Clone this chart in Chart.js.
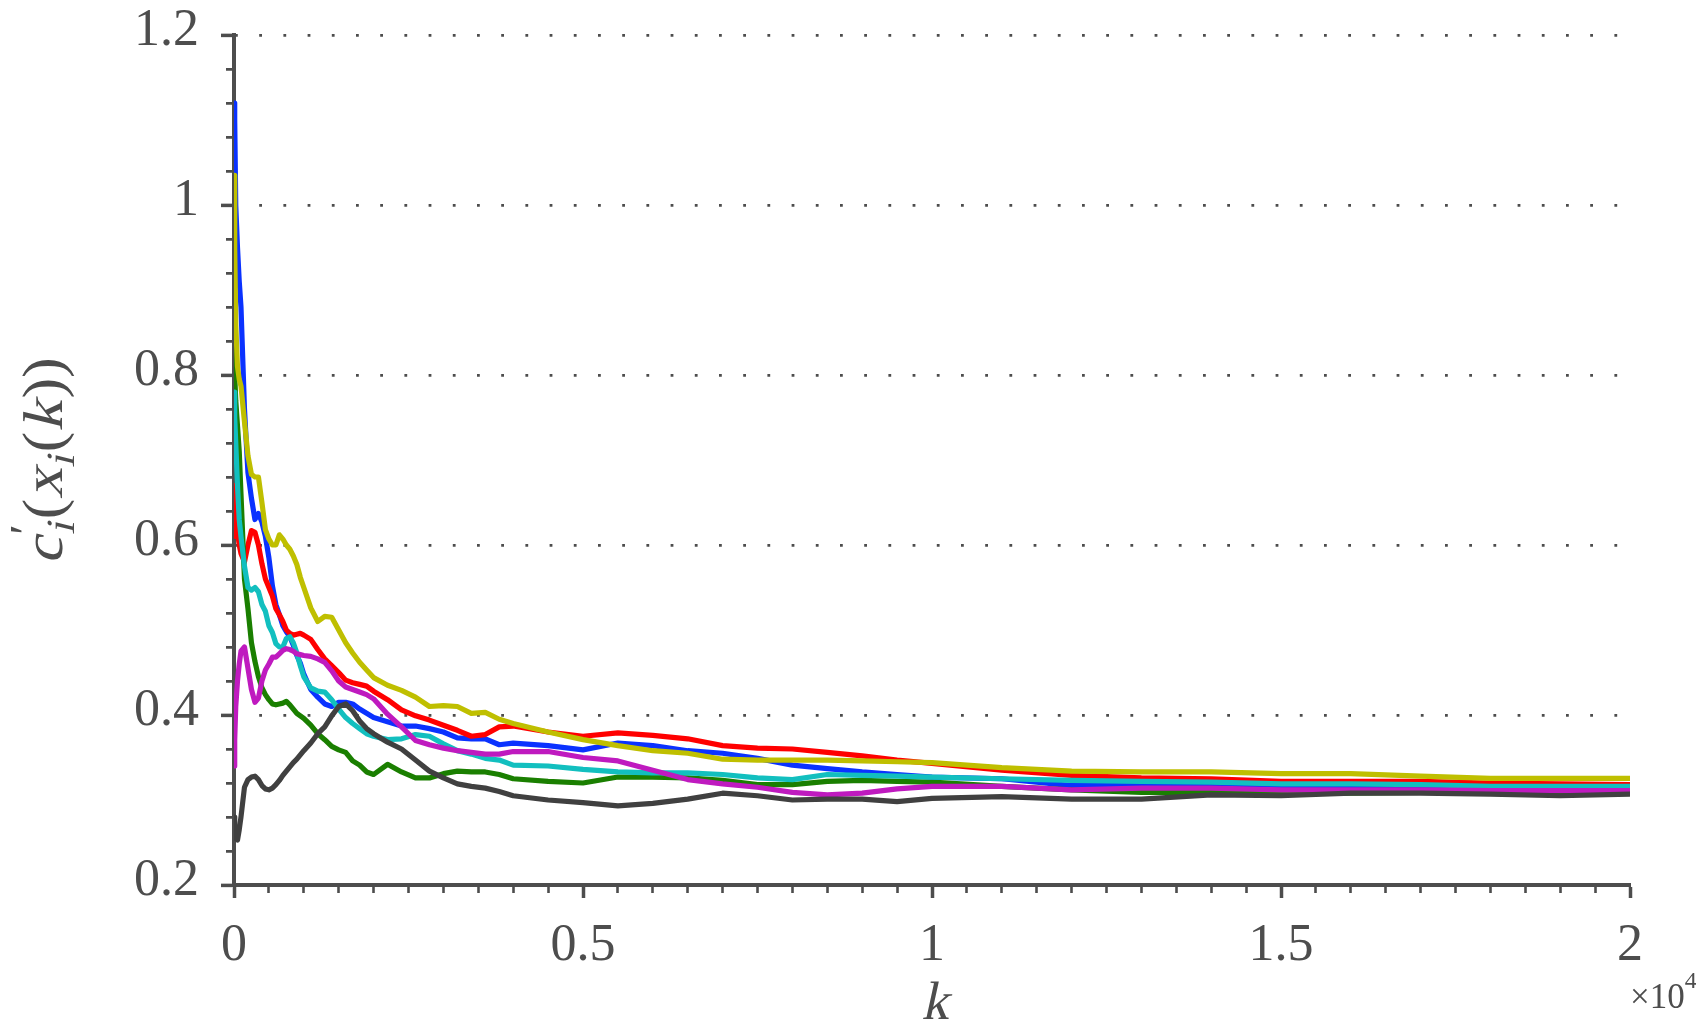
<!DOCTYPE html>
<html>
<head>
<meta charset="utf-8">
<title>c'_i(x_i(k))</title>
<script src="https://cdn.jsdelivr.net/npm/chart.js@4.4.1/dist/chart.umd.min.js"></script>
<style>
  html, body { margin: 0; padding: 0; background: #fff; }
  #chart { display: block; }
</style>
</head>
<body>
<canvas id="chart" width="1696" height="1022"></canvas>
<script>
// iteration index k (shared by all seven traces)
const steps = [0, 10, 25, 50, 75, 100, 150, 200, 250, 300, 350, 400, 450, 500, 550, 600, 650, 700, 750, 800,
    850, 900, 950, 1000, 1100, 1200, 1300, 1400, 1500, 1600, 1700, 1800, 1900, 2000, 2200, 2400, 2600, 2800,
    3000, 3200, 3400, 3600, 3800, 4000, 4500, 5000, 5500, 6000, 6500, 7000, 7500, 8000, 8500, 9000, 9500,
    10000, 11000, 12000, 13000, 14000, 15000, 16000, 17000, 18000, 19000, 20000];

const blueVals = [1.12, 1.10, 1.00, 0.95, 0.91, 0.88, 0.76, 0.685, 0.655, 0.63, 0.637, 0.627, 0.61, 0.585, 0.552, 0.53, 0.518, 0.505, 0.498, 0.492,
    0.482, 0.47, 0.461, 0.448, 0.43, 0.421, 0.413, 0.41, 0.415, 0.415, 0.413, 0.407, 0.402, 0.397, 0.392, 0.387, 0.387, 0.384,
    0.38, 0.373, 0.372, 0.372, 0.365, 0.367, 0.364, 0.359, 0.367, 0.364, 0.358, 0.355, 0.349, 0.341, 0.337, 0.333, 0.33,
    0.327, 0.325, 0.317, 0.317, 0.319, 0.316, 0.315, 0.314, 0.315, 0.315, 0.315];

const redVals = [0.67, 0.64, 0.61, 0.615, 0.60, 0.59, 0.58, 0.60, 0.617, 0.615, 0.60, 0.578, 0.56, 0.55, 0.54, 0.525, 0.518, 0.51, 0.50, 0.496,
    0.494, 0.495, 0.496, 0.494, 0.489, 0.477, 0.466, 0.458, 0.45, 0.441, 0.438, 0.436, 0.434, 0.428, 0.418, 0.406, 0.399, 0.394,
    0.388, 0.382, 0.375, 0.377, 0.386, 0.387, 0.38, 0.375, 0.379, 0.376, 0.372, 0.364, 0.361, 0.36, 0.356, 0.352, 0.347,
    0.343, 0.335, 0.329, 0.326, 0.325, 0.322, 0.322, 0.322, 0.32, 0.319, 0.318];

const greenVals = [0.85, 0.80, 0.77, 0.74, 0.71, 0.66, 0.56, 0.525, 0.485, 0.463, 0.445, 0.432, 0.424, 0.418, 0.413, 0.412, 0.413, 0.414, 0.416, 0.412,
    0.407, 0.402, 0.399, 0.396, 0.388, 0.378, 0.371, 0.363, 0.359, 0.356, 0.346, 0.341, 0.333, 0.33, 0.342, 0.333, 0.326, 0.326,
    0.331, 0.334, 0.333, 0.333, 0.33, 0.325, 0.322, 0.32, 0.327, 0.327, 0.326, 0.323, 0.318, 0.318, 0.322, 0.323, 0.322,
    0.321, 0.316, 0.312, 0.309, 0.309, 0.308, 0.308, 0.309, 0.309, 0.309, 0.309];

const cyanVals = [0.78, 0.75, 0.72, 0.67, 0.63, 0.61, 0.575, 0.55, 0.547, 0.55, 0.545, 0.53, 0.522, 0.505, 0.497, 0.484, 0.48, 0.48, 0.49, 0.492,
    0.485, 0.473, 0.458, 0.445, 0.432, 0.428, 0.427, 0.418, 0.407, 0.397, 0.39, 0.384, 0.378, 0.375, 0.371, 0.372, 0.377, 0.375,
    0.366, 0.358, 0.354, 0.349, 0.347, 0.341, 0.34, 0.336, 0.333, 0.332, 0.332, 0.33, 0.326, 0.324, 0.33, 0.329, 0.328,
    0.327, 0.325, 0.323, 0.322, 0.321, 0.319, 0.319, 0.318, 0.316, 0.316, 0.316];

const magentaVals = [0.34, 0.37, 0.41, 0.44, 0.46, 0.475, 0.48, 0.455, 0.43, 0.415, 0.42, 0.44, 0.453, 0.46, 0.468, 0.468, 0.472, 0.476, 0.478, 0.477,
    0.475, 0.472, 0.471, 0.47, 0.469, 0.466, 0.462, 0.452, 0.44, 0.433, 0.43, 0.427, 0.424, 0.419, 0.401, 0.386, 0.37, 0.365,
    0.361, 0.358, 0.356, 0.354, 0.354, 0.357, 0.357, 0.35, 0.346, 0.335, 0.324, 0.319, 0.315, 0.309, 0.306, 0.308, 0.313,
    0.316, 0.316, 0.312, 0.314, 0.314, 0.312, 0.312, 0.312, 0.311, 0.311, 0.311];

const yellowVals = [1.035, 0.95, 0.86, 0.81, 0.795, 0.787, 0.745, 0.705, 0.683, 0.68, 0.68, 0.65, 0.618, 0.607, 0.60, 0.60, 0.612, 0.607, 0.60, 0.595,
    0.587, 0.577, 0.562, 0.55, 0.526, 0.51, 0.516, 0.515, 0.50, 0.485, 0.473, 0.462, 0.453, 0.444, 0.435, 0.429, 0.421, 0.41,
    0.411, 0.41, 0.402, 0.403, 0.395, 0.39, 0.38, 0.371, 0.364, 0.358, 0.355, 0.348, 0.347, 0.347, 0.347, 0.346, 0.345,
    0.344, 0.338, 0.334, 0.333, 0.333, 0.331, 0.331, 0.328, 0.3255, 0.3255, 0.3255];

const blackVals = [0.28, 0.27, 0.255, 0.253, 0.265, 0.28, 0.315, 0.324, 0.327, 0.328, 0.324, 0.317, 0.313, 0.312, 0.314, 0.318, 0.323, 0.329, 0.334, 0.339,
    0.344, 0.348, 0.353, 0.358, 0.367, 0.378, 0.386, 0.399, 0.41, 0.413, 0.405, 0.393, 0.384, 0.378, 0.368, 0.36, 0.347, 0.334,
    0.326, 0.319, 0.316, 0.314, 0.31, 0.305, 0.30, 0.297, 0.293, 0.296, 0.301, 0.308, 0.305, 0.30, 0.301, 0.301, 0.298,
    0.302, 0.304, 0.301, 0.301, 0.306, 0.305, 0.308, 0.308, 0.307, 0.305, 0.307];

// major tick positions and their labels (x labels are in units of 10^4)
const xMajor = [0, 5000, 10000, 15000, 20000];
const xMajorLabels = ['0', '0.5', '1', '1.5', '2'];
const yMajor = [0.2, 0.4, 0.6, 0.8, 1.0, 1.2];
const yMajorLabels = ['0.2', '0.4', '0.6', '0.8', '1', '1.2'];

const axisGrey = '#4d4d4d';
const serif = 'Liberation Serif';

function majorIndex(list, v) {
    return list.findIndex(m => Math.abs(m - v) < 1e-6 * Math.max(1, Math.abs(m)));
}

function series(vals, color, order) {
    return {
        data: steps.map((k, i) => ({ x: k, y: vals[i] })),
        borderColor: color,
        borderWidth: 5.2,
        pointRadius: 0,
        tension: 0,
        fill: false,
        borderJoinStyle: 'round',
        borderCapStyle: 'round',
        order: order
    };
}

// the serif font here has no italic face, so slant it by hand
function piece(ctx, t, x, y, size, italic) {
    ctx.save();
    ctx.font = size + 'px ' + serif;
    ctx.translate(x, y);
    if (italic) ctx.transform(1, 0, -0.22, 1, 0, 0);
    ctx.fillText(t, 0, 0);
    ctx.restore();
}

function textWidth(ctx, t, size) {
    ctx.font = size + 'px ' + serif;
    return ctx.measureText(t).width;
}

// axis titles and the x10^4 multiplier
const axisText = {
    id: 'axisText',
    afterDraw(chart) {
        const ctx = chart.ctx;
        const area = chart.chartArea;
        ctx.save();
        ctx.fillStyle = axisGrey;
        ctx.textBaseline = 'alphabetic';
        ctx.textAlign = 'left';

        // x label
        const kw = textWidth(ctx, 'k', 54);
        piece(ctx, 'k', (area.left + area.right) / 2 - kw / 2 + 3, 1019, 54, true);

        // x10^4
        const mw = textWidth(ctx, '\u00d710', 35);
        piece(ctx, '\u00d710', 1630, 1008, 35, false);
        piece(ctx, '4', 1630 + mw, 988, 24, false);

        // y label c'_i(x_i(k)), rotated
        const big = 56, small = 40;
        const parts = [
            { t: 'c', s: big, it: true, dy: 0 },
            { t: '\u2032', s: 44, it: false, dy: -22, adv: false, dx: 2 },
            { t: 'i', s: small, it: true, dy: 12 },
            { t: '(', s: big, it: false, dy: 0, dx: 3 },
            { t: 'x', s: big, it: true, dy: 0 },
            { t: 'i', s: small, it: true, dy: 12 },
            { t: '(', s: big, it: false, dy: 0, dx: 3 },
            { t: 'k', s: big, it: true, dy: 0 },
            { t: ')', s: big, it: false, dy: 0, dx: 2 },
            { t: ')', s: big, it: false, dy: 0 }
        ];
        let total = 0;
        parts.forEach(p => {
            p.w = textWidth(ctx, p.t, p.s);
            if (p.adv !== false) total += p.w + (p.dx || 0);
        });
        const target = 205;
        const sx = Math.min(1.25, target / total);
        ctx.translate(62, 462);
        ctx.rotate(-Math.PI / 2);
        ctx.scale(sx, 1);
        let x = -total / 2;
        parts.forEach(p => {
            x += (p.dx || 0);
            piece(ctx, p.t, x, p.dy, p.s, p.it);
            if (p.adv !== false) x += p.w;
        });
        ctx.restore();
    }
};

const config = {
    type: 'line',
    data: {
        datasets: [
            series(blueVals, '#0a32ff', 6),
            series(redVals, '#ff0000', 5),
            series(greenVals, '#1a7f00', 4),
            series(cyanVals, '#12bfbf', 3),
            series(magentaVals, '#bf1abf', 2),
            series(yellowVals, '#bfbf00', 1),
            series(blackVals, '#404040', 0)
        ]
    },
    options: {
        responsive: false,
        animation: false,
        devicePixelRatio: 1,
        layout: {
            padding: { top: 35, right: 66, left: 0, bottom: 0 }
        },
        scales: {
            x: {
                type: 'linear',
                min: 0,
                max: 20000,
                afterFit: (scale) => {
                    scale.height = 137;
                    scale.paddingLeft = 0;
                    scale.paddingRight = 0;
                },
                ticks: {
                    stepSize: 500,
                    autoSkip: false,
                    maxRotation: 0,
                    padding: 17,
                    color: axisGrey,
                    font: { family: serif, size: 52 },
                    callback: (v) => {
                        const i = majorIndex(xMajor, v);
                        return i >= 0 ? xMajorLabels[i] : '';
                    }
                },
                grid: {
                    color: 'rgba(0,0,0,0)',
                    drawTicks: true,
                    tickLength: 13,
                    tickColor: axisGrey,
                    tickWidth: (ctx) => majorIndex(xMajor, ctx.tick.value) >= 0 ? 3.5 : 2.6,
                    tickBorderDash: (ctx) => majorIndex(xMajor, ctx.tick.value) >= 0 ? [] : [6, 30]
                },
                border: { display: true, color: axisGrey, width: 4 }
            },
            y: {
                type: 'linear',
                min: 0.2,
                max: 1.2,
                afterFit: (scale) => {
                    scale.width = 234;
                    scale.paddingTop = 0;
                    scale.paddingBottom = 0;
                },
                ticks: {
                    stepSize: 0.04,
                    autoSkip: false,
                    padding: 22,
                    labelOffset: -4,
                    color: axisGrey,
                    font: { family: serif, size: 52 },
                    callback: (v) => {
                        const i = majorIndex(yMajor, v);
                        return i >= 0 ? yMajorLabels[i] : '';
                    }
                },
                grid: {
                    color: (ctx) => {
                        const i = majorIndex(yMajor, ctx.tick.value);
                        return i > 0 ? axisGrey : 'rgba(0,0,0,0)';
                    },
                    lineWidth: 2.8,
                    drawTicks: true,
                    tickLength: 13,
                    tickColor: axisGrey,
                    tickWidth: (ctx) => majorIndex(yMajor, ctx.tick.value) >= 0 ? 3.5 : 2.6,
                    tickBorderDash: (ctx) => majorIndex(yMajor, ctx.tick.value) >= 0 ? [] : [0, 5, 6, 30]
                },
                border: { display: true, color: axisGrey, width: 4, dash: [2.8, 21.4], dashOffset: 1 }
            }
        },
        plugins: {
            legend: { display: false },
            tooltip: { enabled: false },
            title: { display: false }
        }
    },
    plugins: [axisText]
};

const chartCanvas = document.getElementById('chart');
const chart = new Chart(chartCanvas, config);
</script>
</body>
</html>
